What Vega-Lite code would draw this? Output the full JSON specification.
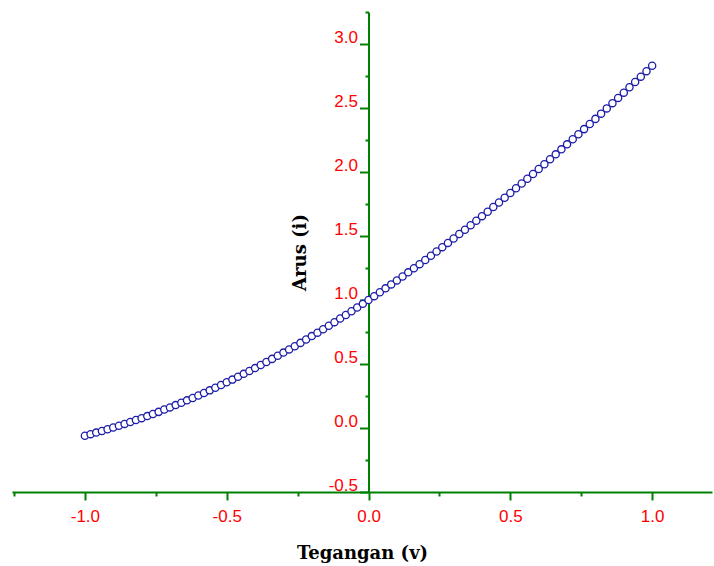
{
  "$schema": "https://vega.github.io/schema/vega-lite/v6.json",
  "width": 700,
  "height": 480,
  "autosize": {"type": "none"},
  "padding": {"left": 12, "top": 12, "right": 2, "bottom": 74},
  "background": "white",
  "config": {
    "view": {"stroke": null},
    "axis": {
      "grid": false,
      "domainColor": "#008000",
      "domainWidth": 2,
      "tickColor": "#008000",
      "tickWidth": 2,
      "labelColor": "#ff0000",
      "labelFont": "Liberation Sans",
      "labelFontSize": 17,
      "titleFont": "DejaVu Serif",
      "titleFontWeight": "bold",
      "titleFontSize": 18,
      "titleColor": "#000000",
      "labelOverlap": false,
      "labelFlush": false
    }
  },
  "data": {
    "values": [
      {"v": -1.00, "i": -0.060}, {"v": -0.98, "i": -0.048}, {"v": -0.96, "i": -0.036}, {"v": -0.94, "i": -0.023},
      {"v": -0.92, "i": -0.010}, {"v": -0.90, "i": 0.004}, {"v": -0.88, "i": 0.018}, {"v": -0.86, "i": 0.032},
      {"v": -0.84, "i": 0.047}, {"v": -0.82, "i": 0.062}, {"v": -0.80, "i": 0.077}, {"v": -0.78, "i": 0.093},
      {"v": -0.76, "i": 0.110}, {"v": -0.74, "i": 0.126}, {"v": -0.72, "i": 0.144}, {"v": -0.70, "i": 0.161},
      {"v": -0.68, "i": 0.179}, {"v": -0.66, "i": 0.197}, {"v": -0.64, "i": 0.216}, {"v": -0.62, "i": 0.235},
      {"v": -0.60, "i": 0.254}, {"v": -0.58, "i": 0.274}, {"v": -0.56, "i": 0.294}, {"v": -0.54, "i": 0.315},
      {"v": -0.52, "i": 0.336}, {"v": -0.50, "i": 0.357}, {"v": -0.48, "i": 0.378}, {"v": -0.46, "i": 0.400},
      {"v": -0.44, "i": 0.423}, {"v": -0.42, "i": 0.445}, {"v": -0.40, "i": 0.468}, {"v": -0.38, "i": 0.492},
      {"v": -0.36, "i": 0.516}, {"v": -0.34, "i": 0.540}, {"v": -0.32, "i": 0.564}, {"v": -0.30, "i": 0.589},
      {"v": -0.28, "i": 0.614}, {"v": -0.26, "i": 0.639}, {"v": -0.24, "i": 0.665}, {"v": -0.22, "i": 0.691},
      {"v": -0.20, "i": 0.718}, {"v": -0.18, "i": 0.745}, {"v": -0.16, "i": 0.772}, {"v": -0.14, "i": 0.799},
      {"v": -0.12, "i": 0.827}, {"v": -0.10, "i": 0.855}, {"v": -0.08, "i": 0.883}, {"v": -0.06, "i": 0.912},
      {"v": -0.04, "i": 0.941}, {"v": -0.02, "i": 0.970}, {"v": 0.00, "i": 1.000}, {"v": 0.02, "i": 1.030},
      {"v": 0.04, "i": 1.060}, {"v": 0.06, "i": 1.091}, {"v": 0.08, "i": 1.122}, {"v": 0.10, "i": 1.153},
      {"v": 0.12, "i": 1.184}, {"v": 0.14, "i": 1.216}, {"v": 0.16, "i": 1.248}, {"v": 0.18, "i": 1.280},
      {"v": 0.20, "i": 1.313}, {"v": 0.22, "i": 1.346}, {"v": 0.24, "i": 1.379}, {"v": 0.26, "i": 1.413},
      {"v": 0.28, "i": 1.446}, {"v": 0.30, "i": 1.480}, {"v": 0.32, "i": 1.515}, {"v": 0.34, "i": 1.549},
      {"v": 0.36, "i": 1.584}, {"v": 0.38, "i": 1.619}, {"v": 0.40, "i": 1.655}, {"v": 0.42, "i": 1.690},
      {"v": 0.44, "i": 1.726}, {"v": 0.46, "i": 1.762}, {"v": 0.48, "i": 1.799}, {"v": 0.50, "i": 1.836},
      {"v": 0.52, "i": 1.873}, {"v": 0.54, "i": 1.910}, {"v": 0.56, "i": 1.947}, {"v": 0.58, "i": 1.985},
      {"v": 0.60, "i": 2.023}, {"v": 0.62, "i": 2.061}, {"v": 0.64, "i": 2.100}, {"v": 0.66, "i": 2.138},
      {"v": 0.68, "i": 2.177}, {"v": 0.70, "i": 2.216}, {"v": 0.72, "i": 2.256}, {"v": 0.74, "i": 2.295},
      {"v": 0.76, "i": 2.335}, {"v": 0.78, "i": 2.375}, {"v": 0.80, "i": 2.415}, {"v": 0.82, "i": 2.456},
      {"v": 0.84, "i": 2.497}, {"v": 0.86, "i": 2.538}, {"v": 0.88, "i": 2.579}, {"v": 0.90, "i": 2.620},
      {"v": 0.92, "i": 2.662}, {"v": 0.94, "i": 2.703}, {"v": 0.96, "i": 2.745}, {"v": 0.98, "i": 2.788},
      {"v": 1.00, "i": 2.830}
    ]
  },
  "mark": {"type": "point", "shape": "circle", "size": 52, "filled": false, "fill": "white", "fillOpacity": 1, "stroke": "#1c1ca8", "strokeWidth": 1.3, "opacity": 1},
  "encoding": {
    "x": {
      "field": "v",
      "type": "quantitative",
      "scale": {"domain": [-1.257, 1.211], "nice": false, "zero": false},
      "axis": {
        "orient": "bottom",
        "values": [-1.25, -1, -0.75, -0.5, -0.25, 0, 0.25, 0.5, 0.75, 1],
        "tickSize": {"condition": {"test": "abs(datum.value*2 - round(datum.value*2)) < 0.001", "value": 8}, "value": 4},
        "labelExpr": "abs(datum.value*2 - round(datum.value*2)) < 0.001 ? (datum.value < 0 ? '-' : '') + format(abs(datum.value), '.1f') : ''",
        "labelBaseline": "alphabetic",
        "labelPadding": 21,
        "title": "Tegangan (v)",
        "titleY": 66,
        "titleBaseline": "alphabetic"
      }
    },
    "y": {
      "field": "i",
      "type": "quantitative",
      "scale": {"domain": [-0.5, 3.25], "nice": false, "zero": false},
      "axis": {
        "orient": "left",
        "offset": -356.5,
        "values": [-0.5, -0.25, 0, 0.25, 0.5, 0.75, 1, 1.25, 1.5, 1.75, 2, 2.25, 2.5, 2.75, 3, 3.25],
        "tickSize": {"condition": {"test": "abs(datum.value*2 - round(datum.value*2)) < 0.001", "value": 9}, "value": 3.5},
        "labelExpr": "abs(datum.value*2 - round(datum.value*2)) < 0.001 ? (datum.value < 0 ? '-' : '') + format(abs(datum.value), '.1f') : ''",
        "labelBaseline": "alphabetic",
        "labelOffset": -2,
        "labelPadding": 2,
        "title": "Arus (i)",
        "titleX": -63.5,
        "titleBaseline": "alphabetic"
      }
    }
  }
}
